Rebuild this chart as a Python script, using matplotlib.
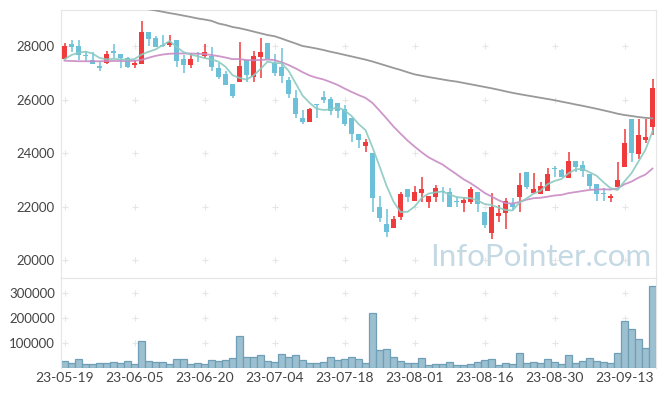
import numpy as np
import pandas as pd
import matplotlib
matplotlib.use('Agg')
import matplotlib.pyplot as plt

# trading days (KRX, holidays skipped)
dates = pd.bdate_range('2023-05-19', periods=85, freq='C',
                       holidays=['2023-05-29', '2023-06-06', '2023-08-15'])

opens = [27525, 28070, 28000, 27640, 27475, 27250, 27365, 27815, 27690, 27540,
         27300, 27340, 28525, 28300, 28020, 28050, 28235, 27515, 27290, 27720,
         27640, 27640, 27190, 26940, 26580, 26645, 27475, 26855, 27600, 28125,
         27375, 27230, 26730, 26045, 25300, 25170, 25800, 26095, 26020, 25860,
         25645, 25300, 24700, 24275, 24010, 21980, 21365, 21185, 21620, 22655,
         22220, 22520, 22180, 22370, 22560, 22530, 22200, 22120, 22180, 22555,
         21795, 21020, 21645, 21745, 22085, 22370, 23300, 22495, 22470, 22590,
         23440, 23365, 23055, 23700, 23540, 23215, 22830, 22500, 22305, 22740,
         23490, 25270, 23950, 24485, 24985]
highs = [28100, 28210, 28210, 27820, 27790, 27415, 27815, 28060, 27690, 27600,
         27475, 28935, 28525, 28360, 28400, 28410, 28235, 27665, 27750, 27790,
         28060, 27950, 27350, 27075, 26580, 28140, 27475, 27815, 28290, 28125,
         27690, 27915, 26855, 26355, 25610, 25695, 25810, 26320, 26095, 25860,
         25795, 25300, 24700, 24510, 24010, 22380, 21905, 21655, 22530, 22655,
         22765, 23090, 22395, 22805, 22720, 22680, 22370, 22370, 22745, 22555,
         21795, 22495, 22055, 22330, 22330, 23240, 23300, 23240, 22905, 23430,
         23515, 23400, 24050, 23700, 23700, 23215, 22830, 22680, 22455, 23655,
         24885, 25270, 25260, 25260, 26765]
lows = [27500, 27790, 27475, 27450, 27330, 27080, 27315, 27540, 27190, 27165,
        27190, 27340, 27990, 27975, 27950, 27950, 27230, 27000, 27165, 27415,
        27540, 27080, 26765, 26555, 26045, 26645, 26645, 26645, 26790, 27505,
        26880, 26605, 26045, 25300, 25095, 25170, 25320, 25880, 25420, 25300,
        25010, 24400, 24175, 24025, 21785, 21430, 20850, 21185, 21495, 22180,
        22220, 22180, 21935, 22180, 22180, 21970, 21970, 21805, 22085, 21805,
        21185, 20775, 21430, 21160, 21870, 21785, 22640, 22455, 22470, 22590,
        23115, 23115, 23055, 23300, 23090, 22640, 22205, 22205, 22180, 22740,
        23490, 23655, 23765, 24385, 24675]
closes = [28000, 27975, 27660, 27610, 27340, 27190, 27700, 27750, 27540, 27215,
          27365, 28525, 28275, 27975, 27990, 28150, 27450, 27290, 27515, 27700,
          27775, 27230, 26855, 26555, 26140, 27250, 26915, 27625, 27775, 27505,
          27000, 26890, 26215, 25470, 25170, 25645, 25780, 25980, 25570, 25570,
          25095, 24700, 24500, 24425, 22330, 21580, 21060, 21535, 22470, 22370,
          22530, 22655, 22395, 22705, 22530, 21970, 22180, 22245, 22655, 22085,
          21310, 21995, 21745, 22220, 21995, 22805, 22730, 22655, 22765, 23215,
          23410, 23115, 23700, 23490, 23340, 22765, 22470, 22470, 22395, 22990,
          24385, 23990, 24670, 24595, 26420]
volumes = [25600, 17600, 33600, 13600, 13600, 17600, 17600, 21600, 17600, 25600,
           13600, 105600, 25600, 21600, 21600, 13600, 33600, 33600, 13600, 17600,
           13600, 29600, 25600, 29600, 37600, 125600, 41600, 41600, 49600, 25600,
           21600, 53600, 41600, 49600, 29600, 17600, 17600, 21600, 41600, 29600,
           33600, 41600, 33600, 17600, 217600, 69600, 73600, 41600, 25600, 17600,
           17600, 37600, 9600, 13600, 13600, 21600, 9600, 9600, 13600, 21600,
           29600, 33600, 9600, 17600, 13600, 57600, 17600, 21600, 17600, 33600,
           21600, 13600, 49600, 17600, 25600, 37600, 25600, 21600, 17600, 57600,
           185600, 153600, 113600, 77600, 325600]

# moving-average values before enough closes are on screen
ma5_head = [27500, 27665, 27750, 27790]
ma20_head = [27450, 27440, 27430, 27430, 27430, 27430, 27435, 27440, 27440, 27440,
             27445, 27480, 27560, 27630, 27680, 27710, 27720, 27720, 27720]
ma_long = [29970, 29920, 29870, 29820, 29770, 29720, 29670, 29620, 29570, 29520,
           29470, 29420, 29370, 29330, 29280, 29230, 29185, 29135, 29085, 29030,
           28990, 28940, 28840, 28785, 28710, 28665, 28605, 28540, 28475, 28410,
           28365, 28280, 28185, 28095, 28000, 27955, 27905, 27850, 27785, 27730,
           27670, 27610, 27550, 27490, 27420, 27340, 27260, 27180, 27105, 27020,
           26940, 26890, 26840, 26795, 26750, 26705, 26670, 26620, 26570, 26520,
           26470, 26420, 26365, 26305, 26250, 26200, 26155, 26110, 26065, 26020,
           25975, 25920, 25870, 25815, 25765, 25710, 25655, 25595, 25535, 25470,
           25420, 25385, 25345, 25315, 25295]

c = pd.Series(closes, dtype=float)
ma5 = c.rolling(5).mean().values
ma5[:4] = ma5_head
ma20 = c.rolling(20).mean().values
ma20[:19] = ma20_head

RED = '#ef3b3b'
BLUE = '#6cc1d8'
plt.rcParams['font.family'] = ['Lato', 'DejaVu Sans']

fig = plt.figure(figsize=(6.65, 3.96), dpi=100)
ax = fig.add_axes([61 / 665, 1 - 278 / 396, 595 / 665, 268 / 396])
axv = fig.add_axes([61 / 665, 1 - 367.7 / 396, 595 / 665, 89.7 / 396])

x = np.arange(len(closes))
o = np.array(opens, float)
cl = np.array(closes, float)
up = cl >= o
cols = np.where(up, RED, BLUE)

ax.vlines(x, lows, highs, colors=cols, lw=1.1, zorder=2)
body = np.maximum(np.abs(cl - o), 35)
ax.bar(x, body, bottom=np.minimum(o, cl), width=0.72, color=cols, lw=0, zorder=3)

ax.plot(x, ma_long, color='#999999', lw=1.3, zorder=4)
ax.plot(x, ma20, color='#c98bc4', lw=1.3, alpha=0.9, zorder=4)
ax.plot(x, ma5, color='#8ccac1', lw=1.3, alpha=0.9, zorder=4)

axv.bar(x, volumes, width=1.0, color='#9cc0d0', edgecolor='#6f9fb7', lw=0.9)

xt = list(range(0, 85, 10))
yt = [20000, 22000, 24000, 26000, 28000]
vt = [100000, 200000, 300000]
gx, gy = np.meshgrid(xt, yt)
ax.plot(gx.ravel(), gy.ravel(), '+', color='#e6e6e6', ms=4, mew=0.8, zorder=1)
gx, gv = np.meshgrid(xt, vt)
axv.plot(gx.ravel(), gv.ravel(), '+', color='#e6e6e6', ms=4, mew=0.8, zorder=0)

ax.set_xlim(-0.5, 84.5)
axv.set_xlim(-0.5, 84.5)
ax.set_ylim(19330, 29345)
axv.set_ylim(0, 359000)

ax.set_yticks(yt)
ax.set_xticks([])
axv.set_yticks(vt)
axv.set_xticks(xt)
axv.set_xticklabels([dates[i].strftime('%y-%m-%d') for i in xt])

for a in (ax, axv):
    a.tick_params(length=0, labelsize=9.5, colors='#444444', pad=4.5)
    for s in a.spines.values():
        s.set_color('#e6e6e6')
axv.tick_params(axis='x', labelsize=10, pad=3)
axv.spines['bottom'].set_visible(False)

fig.text(430 / 665, 1 - 257 / 396, 'InfoPointer.com', fontsize=22.5,
         color='#c4d9e4', ha='left', va='center', zorder=10)

fig.savefig('out.png', dpi=100)
